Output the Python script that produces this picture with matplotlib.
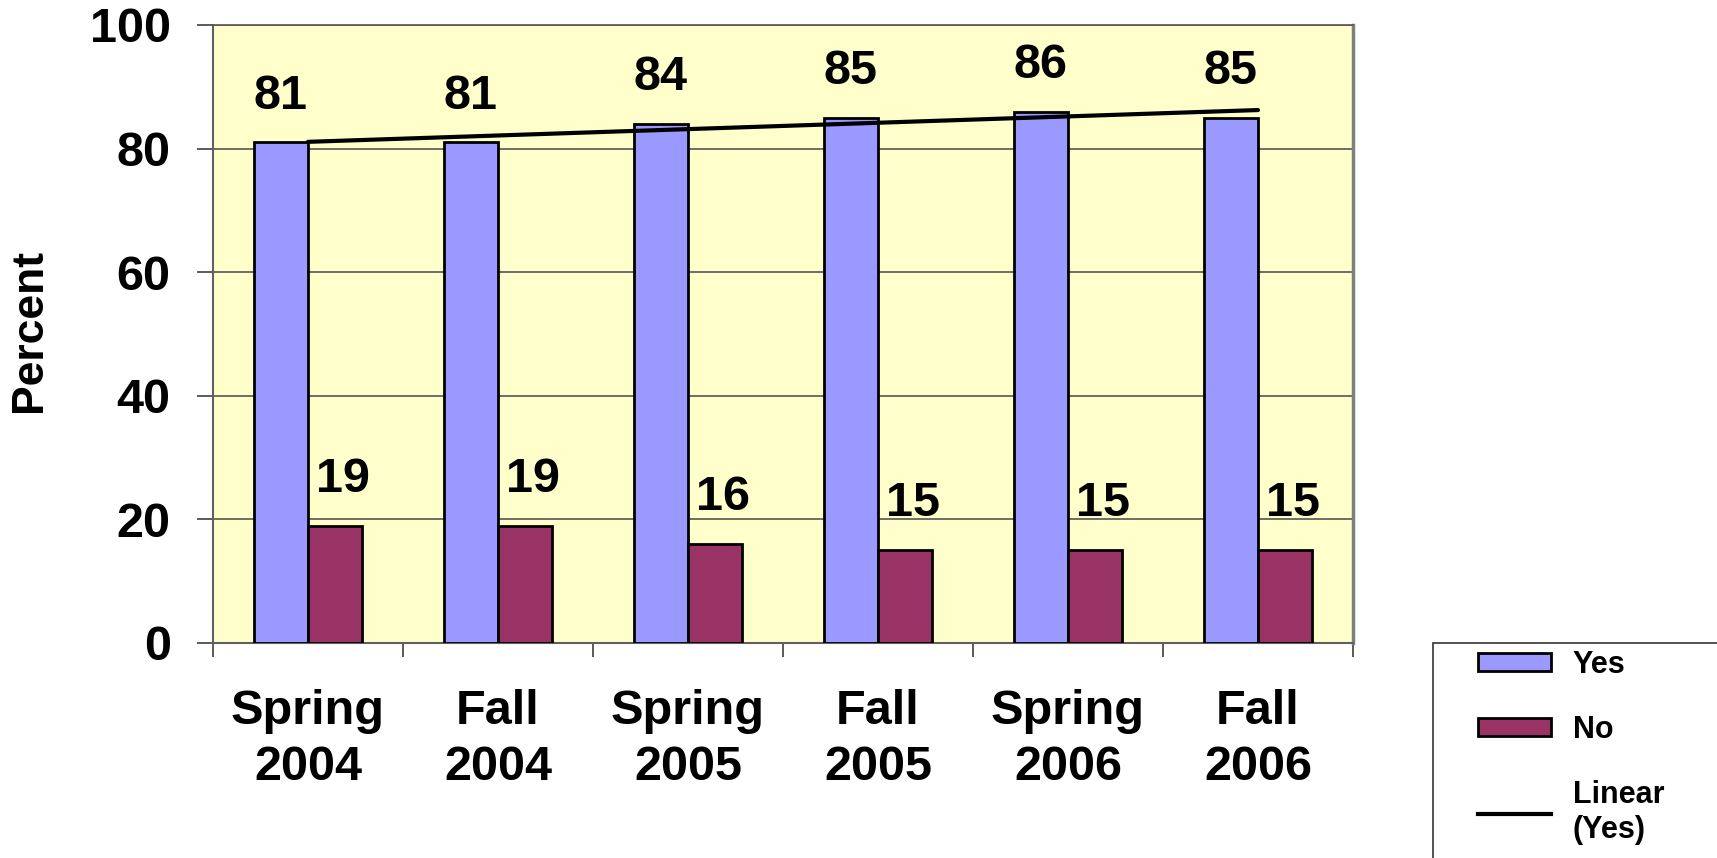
import matplotlib.pyplot as plt
from matplotlib.patches import Rectangle
from matplotlib.lines import Line2D
import numpy as np

# Chart data
categories = ["Spring\n2004", "Fall\n2004", "Spring\n2005", "Fall\n2005", "Spring\n2006", "Fall\n2006"]
yes_values = [81, 81, 84, 85, 86, 85]
no_values = [19, 19, 16, 15, 15, 15]
y_ticks = [0, 20, 40, 60, 80, 100]

YES_COLOR = "#9999FF"
NO_COLOR = "#993366"
BG_COLOR = "#FFFFCC"
FONT = "Liberation Sans"

plt.rcParams["font.family"] = [FONT, "DejaVu Sans"]
plt.rcParams["font.weight"] = "bold"

W, H = 1717, 858
fig = plt.figure(figsize=(W / 100, H / 100), dpi=100)
ax = fig.add_axes([213 / W, 1 - 643 / H, (1353 - 213) / W, (643 - 25) / H])
ax.set_facecolor(BG_COLOR)

x = np.arange(len(categories))
bar_w = 0.285

ax.bar(x, yes_values, width=-bar_w, align="edge", color=YES_COLOR,
       edgecolor="black", linewidth=2, zorder=3)
ax.bar(x, no_values, width=bar_w, align="edge", color=NO_COLOR,
       edgecolor="black", linewidth=2, zorder=3)

# Linear trend of the Yes series
coef = np.polyfit(x + 1, yes_values, 1)
trend = np.polyval(coef, x + 1)
ax.plot(x, trend, color="black", linewidth=3, zorder=4, solid_capstyle="round")

# Data labels
for i in range(len(categories)):
    ax.text(x[i] - bar_w / 2, yes_values[i] + 7.5, str(yes_values[i]),
            ha="center", va="center", fontsize=35, fontweight="bold", zorder=5)
    ax.text(x[i] + bar_w / 2 + 0.04, no_values[i] + 7.5, str(no_values[i]),
            ha="center", va="center", fontsize=35, fontweight="bold", zorder=5)

ax.set_xlim(-0.5, len(categories) - 0.5)
ax.set_ylim(0, 100)

ax.set_yticks(y_ticks)
ax.set_yticklabels([str(t) for t in y_ticks], fontsize=35, fontweight="bold")
ax.tick_params(axis="y", length=11.5, width=1.2, color="#404040", pad=19)
ax.yaxis.grid(True, color="#555555", linewidth=1.2, zorder=1)
ax.set_axisbelow(True)

ax.set_xticks(x)
ax.set_xticklabels(categories, fontsize=35, fontweight="bold", linespacing=1.32)
ax.tick_params(axis="x", which="major", length=0, pad=33)
ax.set_xticks(np.arange(-0.5, len(categories)), minor=True)
ax.tick_params(axis="x", which="minor", length=10, width=1.2, color="#404040")

for side in ["left", "bottom"]:
    ax.spines[side].set_color("#606060")
    ax.spines[side].set_linewidth(1.5)
ax.spines["top"].set_color("#555555")
ax.spines["top"].set_linewidth(1.2)
ax.spines["right"].set_color("#808080")
ax.spines["right"].set_linewidth(2.5)

fig.text(30 / W, 1 - 330 / H, "Percent", rotation=90, ha="center", va="center",
         fontsize=32, fontweight="bold")

# Legend
handles = [
    Rectangle((0, 0), 1, 1, facecolor=YES_COLOR, edgecolor="black", linewidth=2),
    Rectangle((0, 0), 1, 1, facecolor=NO_COLOR, edgecolor="black", linewidth=2),
    Line2D([0], [0], color="black", linewidth=3),
]
fig.legend(handles, ["Yes", "No", "Linear\n(Yes)"], loc="upper left",
           bbox_to_anchor=(1478 / W, 1 - 650 / H), frameon=False,
           prop={"family": FONT, "weight": "bold", "size": 22},
           handlelength=2.4, handleheight=0.52, handletextpad=0.7,
           labelspacing=1.15, borderpad=0, borderaxespad=0)
fig.patches.append(Rectangle((1433 / W, 1 - 643 / H - 0.5), 0.5, 0.5,
                             transform=fig.transFigure, facecolor="none",
                             edgecolor="#333333", linewidth=1.2))

fig.savefig("out.png", dpi=100)
